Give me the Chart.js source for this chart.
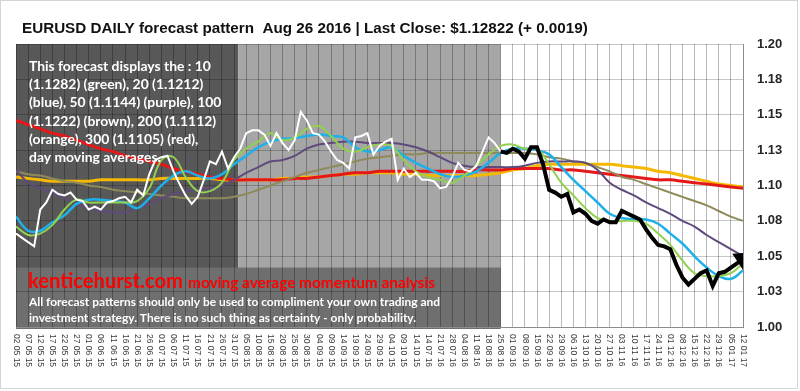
<!DOCTYPE html>
<html>
<head>
<meta charset="utf-8">
<script src="https://cdn.jsdelivr.net/npm/chart.js@4"></script>
<style>
    body { margin: 0; background: #ffffff; }
    #wrap { width: 800px; height: 391px; }
</style>
</head>
<body>
<div id="wrap"><canvas id="forecastChart" width="800" height="391"></canvas></div>
<script>
const X_LABELS = [
    "02 05 15", "07 05 15", "12 05 15", "17 05 15", "22 05 15", "27 05 15", "01 06 15", "06 06 15",
    "11 06 15", "16 06 15", "21 06 15", "26 06 15", "01 07 15", "06 07 15", "11 07 15", "16 07 15",
    "21 07 15", "26 07 15", "31 07 15", "05 08 15", "10 08 15", "15 08 15", "20 08 15", "25 08 15",
    "30 08 15", "04 09 15", "09 09 15", "14 09 15", "19 09 15", "24 09 15", "29 09 15", "04 10 15",
    "09 10 15", "14 10 15", "14 07 16", "21 07 16", "28 07 16", "04 08 16", "11 08 16", "18 08 16",
    "25 08 16", "01 09 16", "08 09 16", "15 09 16", "22 09 16", "29 09 16", "06 10 16", "13 10 16",
    "20 10 16", "27 10 16", "03 11 16", "10 11 16", "17 11 16", "24 11 16", "01 12 16", "08 12 16",
    "15 12 16", "22 12 16", "29 12 16", "05 01 17", "12 01 17"
];

const Y_MIN = 1.0;
const Y_MAX = 1.2;
const Y_STEP = 0.025;
const Y_TICK_LABELS = ["1.00", "1.03", "1.05", "1.08", "1.10", "1.13", "1.15", "1.18", "1.20"];

// moving averages, one value per date label
const MA_START = 0;
const MA_STEP = 1;
const ma10 = [
    1.071, 1.065, 1.066, 1.072, 1.083, 1.090, 1.088, 1.088, 1.088, 1.088,
    1.089, 1.098, 1.118, 1.120, 1.106, 1.096, 1.096, 1.102, 1.118, 1.126,
    1.131, 1.137, 1.132, 1.134, 1.140, 1.142, 1.135, 1.126, 1.124, 1.127,
    1.129, 1.128, 1.118, 1.110, 1.106, 1.104, 1.102, 1.107, 1.114, 1.122,
    1.128, 1.129, 1.126, 1.126, 1.115, 1.102, 1.093, 1.084, 1.077, 1.075,
    1.075, 1.075, 1.073, 1.066, 1.058, 1.047, 1.038, 1.036, 1.036, 1.038,
    1.045
];
const ma20 = [
    1.078, 1.068, 1.068, 1.074, 1.079, 1.087, 1.090, 1.090, 1.089, 1.088,
    1.084, 1.091, 1.100, 1.107, 1.110, 1.107, 1.105, 1.108, 1.115, 1.121,
    1.127, 1.131, 1.133, 1.1335, 1.135, 1.136, 1.135, 1.134, 1.127, 1.124,
    1.125, 1.127, 1.121, 1.116, 1.112, 1.108, 1.106, 1.107, 1.110, 1.116,
    1.123, 1.126, 1.126, 1.125, 1.122, 1.113, 1.104, 1.096, 1.088, 1.080,
    1.077, 1.076, 1.076, 1.073, 1.066, 1.059, 1.050, 1.042, 1.036, 1.034,
    1.040
];
const ma50 = [
    1.111, 1.102, 1.098, 1.095, 1.091, 1.087, 1.084, 1.082, 1.081, 1.081,
    1.084, 1.087, 1.091, 1.094, 1.096, 1.097, 1.098, 1.100, 1.104, 1.109,
    1.113, 1.117, 1.118, 1.121, 1.126, 1.129, 1.130, 1.131, 1.131, 1.130,
    1.130, 1.130, 1.129, 1.127, 1.124, 1.120, 1.116, 1.114, 1.113, 1.113,
    1.113, 1.113, 1.114, 1.116, 1.117, 1.117, 1.117, 1.116, 1.111, 1.102,
    1.097, 1.093, 1.088, 1.084, 1.080, 1.075, 1.071, 1.065, 1.060, 1.055,
    1.050
];
const ma100 = [
    1.110, 1.108, 1.107, 1.105, 1.103, 1.102, 1.100, 1.099, 1.097, 1.096,
    1.095, 1.094, 1.093, 1.092, 1.091, 1.091, 1.091, 1.091, 1.092, 1.094,
    1.097, 1.100, 1.103, 1.106, 1.109, 1.111, 1.113, 1.115, 1.117, 1.119,
    1.120, 1.121, 1.122, 1.122, 1.123, 1.123, 1.123, 1.123, 1.123, 1.123,
    1.123, 1.123, 1.123, 1.122, 1.120, 1.119, 1.117, 1.116, 1.113, 1.110,
    1.106, 1.104, 1.101, 1.098, 1.095, 1.092, 1.089, 1.086, 1.082, 1.078,
    1.075
];
const ma200 = [
    1.106, 1.105, 1.104, 1.103, 1.103, 1.103, 1.103, 1.104, 1.104, 1.104,
    1.104, 1.104, 1.105, 1.105, 1.105, 1.105, 1.105, 1.104, 1.104, 1.104,
    1.104, 1.104, 1.105, 1.105, 1.106, 1.106, 1.107, 1.108, 1.108, 1.109,
    1.109, 1.109, 1.108, 1.108, 1.107, 1.107, 1.107, 1.107, 1.107, 1.108,
    1.109, 1.111, 1.112, 1.114, 1.115, 1.115, 1.115, 1.115, 1.115, 1.115,
    1.114, 1.113, 1.112, 1.110, 1.109, 1.107, 1.105, 1.103, 1.101, 1.100,
    1.099
];
const ma300 = [
    1.146, 1.143, 1.140, 1.137, 1.135, 1.132, 1.129, 1.126, 1.124, 1.121,
    1.119, 1.117, 1.115, 1.112, 1.110, 1.108, 1.106, 1.105, 1.104, 1.104,
    1.104, 1.104, 1.104, 1.105, 1.105, 1.106, 1.107, 1.108, 1.109, 1.109,
    1.110, 1.110, 1.110, 1.110, 1.110, 1.110, 1.110, 1.110, 1.111, 1.111,
    1.111, 1.112, 1.112, 1.112, 1.112, 1.111, 1.111, 1.110, 1.109, 1.108,
    1.107, 1.106, 1.105, 1.104, 1.104, 1.103, 1.102, 1.101, 1.100, 1.099,
    1.098
];

// daily close, half a label apart
const CLOSE_START = 0;
const CLOSE_STEP = 0.5;
const closeHistory = [
    1.066, 1.063, 1.060, 1.057, 1.083, 1.088, 1.097, 1.094, 1.093, 1.095,
    1.090, 1.089, 1.083, 1.085, 1.083, 1.088, 1.089, 1.091, 1.092, 1.088,
    1.097, 1.093, 1.108, 1.118, 1.120, 1.121, 1.110, 1.101, 1.093, 1.087,
    1.092, 1.104, 1.117, 1.115, 1.124, 1.112, 1.120, 1.126, 1.137, 1.139,
    1.139, 1.136, 1.128, 1.137, 1.130, 1.125, 1.132, 1.152, 1.146, 1.137,
    1.136, 1.131, 1.124, 1.118, 1.116, 1.112, 1.134, 1.135, 1.137, 1.122,
    1.128, 1.131, 1.133, 1.104, 1.112, 1.106, 1.109, 1.104, 1.104, 1.103,
    1.098, 1.099, 1.106, 1.116, 1.111, 1.110, 1.114, 1.124, 1.134, 1.130,
    1.124
];

const FORECAST_START = 40;
const FORECAST_STEP = 0.5;
const forecast = [
    1.124, 1.123, 1.126, 1.124, 1.119, 1.127, 1.127, 1.115, 1.097, 1.095,
    1.092, 1.094, 1.081, 1.083, 1.080, 1.075, 1.073, 1.076, 1.074, 1.074,
    1.082, 1.080, 1.078, 1.076, 1.069, 1.063, 1.058, 1.057, 1.055, 1.044,
    1.035, 1.030, 1.034, 1.038, 1.040, 1.029, 1.038, 1.039, 1.042, 1.045,
    1.048
];

// shaded zones of the sheet (in label units / price)
const DARK_END = 18.35;
const HISTORY_END = 40;
const NOTE_BOX_TOP = 1.042;

const TITLE = "EURUSD DAILY forecast pattern  Aug 26 2016 | Last Close: $1.12822 (+ 0.0019)";
const NOTE_LINES = [
    "This forecast displays the : 10",
    "(1.1282) (green), 20 (1.1212)",
    "(blue), 50 (1.1144) (purple), 100",
    "(1.1222) (brown), 200 (1.1112)",
    "(orange), 300 (1.1105) (red),",
    "day moving averages."
];
const BRAND = "kenticehurst.com";
const BRAND_SUB = "moving average momentum analysis";
const DISCLAIMER = [
    "All forecast patterns should only be used to compliment your own trading and",
    "investment strategy. There is no such thing as certainty - only probability."
];

function toPoints(values, start, step) {
    return values.map((v, k) => ({ x: start + k * step, y: v }));
}

function fitFont(ctx, text, width, weight, family) {
    ctx.font = `${weight} 20px ${family}`;
    const size = 20 * width / ctx.measureText(text).width;
    return `${weight} ${size.toFixed(2)}px ${family}`;
}

const backdrop = {
    id: "backdrop",
    beforeDraw(chart) {
        const { ctx, chartArea: a, scales: { x, y } } = chart;
        const xd = x.getPixelForValue(DARK_END);
        const xh = x.getPixelForValue(HISTORY_END);
        const yb = y.getPixelForValue(NOTE_BOX_TOP);
        ctx.save();
        ctx.fillStyle = "#ffffff";
        ctx.fillRect(0, 0, chart.width, chart.height);
        ctx.fillStyle = "#585858";
        ctx.fillRect(a.left, a.top, xd - a.left, a.bottom - a.top);
        ctx.fillStyle = "#a6a6a6";
        ctx.fillRect(xd, a.top, xh - xd, a.bottom - a.top);
        ctx.fillStyle = "#6f6f6f";
        ctx.fillRect(a.left, yb, xh - a.left, a.bottom - yb + 2);
        ctx.strokeStyle = "#d4d4d4";
        ctx.lineWidth = 1;
        ctx.strokeRect(0.5, 0.5, 797, 388);
        ctx.restore();
    }
};

const notes = {
    id: "notes",
    afterDatasetsDraw(chart) {
        const { ctx } = chart;
        ctx.save();
        ctx.textBaseline = "alphabetic";
        ctx.textAlign = "left";

        ctx.fillStyle = "#ffffff";
        ctx.font = fitFont(ctx, NOTE_LINES[0], 182, "bold", "Lato");
        NOTE_LINES.forEach((line, k) => ctx.fillText(line, 29, 71 + k * 18.2));

        ctx.fillStyle = "#ff0000";
        ctx.font = fitFont(ctx, BRAND, 155, "bold", "Lato");
        ctx.fillText(BRAND, 28, 288);
        ctx.font = fitFont(ctx, BRAND_SUB, 247, "bold", "Lato");
        ctx.fillText(BRAND_SUB, 188, 288);

        ctx.fillStyle = "#ffffff";
        ctx.font = fitFont(ctx, DISCLAIMER[0], 411, "bold", "Lato");
        ctx.fillText(DISCLAIMER[0], 29, 306);
        ctx.fillText(DISCLAIMER[1], 29, 322);
        ctx.restore();
    },
    afterDraw(chart) {
        const { ctx, chartArea: a, scales: { x } } = chart;
        ctx.save();
        ctx.fillStyle = "#111111";
        ctx.textBaseline = "alphabetic";
        ctx.font = fitFont(ctx, TITLE, 566, "bold", "'Liberation Sans', Arial");
        ctx.fillText(TITLE, 22, 33);

        ctx.fillStyle = "#3a3a3a";
        ctx.font = "8.5px 'Liberation Sans', Arial";
        ctx.textBaseline = "middle";
        X_LABELS.forEach((label, k) => {
            ctx.save();
            ctx.translate(x.getPixelForValue(k), a.bottom + 7);
            ctx.rotate(Math.PI / 2);
            ctx.fillText(label, 0, 0);
            ctx.restore();
        });
        ctx.restore();
    }
};

function lineSet(label, values, start, step, color, width, tension) {
    return {
        label: label,
        data: toPoints(values, start, step),
        borderColor: color,
        backgroundColor: color,
        borderWidth: width,
        pointRadius: 0,
        tension: tension,
        fill: false
    };
}

const forecastSet = lineSet("Forecast", forecast, FORECAST_START, FORECAST_STEP, "#000000", 4, 0);
forecastSet.pointRadius = ctx => (ctx.dataIndex === forecast.length - 1 ? 8 : 0);
forecastSet.pointStyle = "triangle";
forecastSet.rotation = 57;

new Chart(document.getElementById("forecastChart"), {
    type: "line",
    data: {
        datasets: [
            forecastSet,
            lineSet("Close", closeHistory, CLOSE_START, CLOSE_STEP, "#ffffff", 2, 0),
            lineSet("10 MA", ma10, MA_START, MA_STEP, "#92d050", 2, 0.4),
            lineSet("20 MA", ma20, MA_START, MA_STEP, "#1eb0e8", 2.5, 0.4),
            lineSet("50 MA", ma50, MA_START, MA_STEP, "#604a7b", 2, 0.4),
            lineSet("100 MA", ma100, MA_START, MA_STEP, "#8f8a5a", 2, 0.4),
            lineSet("300 MA", ma300, MA_START, MA_STEP, "#e41818", 3, 0.4),
            lineSet("200 MA", ma200, MA_START, MA_STEP, "#f5b800", 3, 0.4)
        ]
    },
    options: {
        responsive: false,
        animation: false,
        devicePixelRatio: 1,
        layout: { padding: { left: 16, top: 44, right: 0, bottom: 0 } },
        plugins: {
            legend: { display: false },
            tooltip: { enabled: false }
        },
        scales: {
            x: {
                type: "linear",
                min: 0,
                max: X_LABELS.length - 1,
                ticks: { display: false, stepSize: 1, maxTicksLimit: 100 },
                grid: { color: "rgba(0,0,0,0.28)", drawTicks: false },
                border: { color: "#8c8c8c" },
                afterFit: scale => { scale.height = 64; }
            },
            y: {
                position: "right",
                min: Y_MIN,
                max: Y_MAX,
                ticks: {
                    stepSize: Y_STEP,
                    padding: 14,
                    color: "#262626",
                    font: { family: "'Liberation Sans', Arial", size: 13, weight: "bold" },
                    callback: value => Y_TICK_LABELS[Math.round((value - Y_MIN) / Y_STEP)]
                },
                grid: { color: "rgba(0,0,0,0.22)", drawTicks: false },
                border: { color: "#8c8c8c" },
                afterFit: scale => { scale.width = 57; }
            }
        }
    },
    plugins: [backdrop, notes]
});
</script>
</body>
</html>
